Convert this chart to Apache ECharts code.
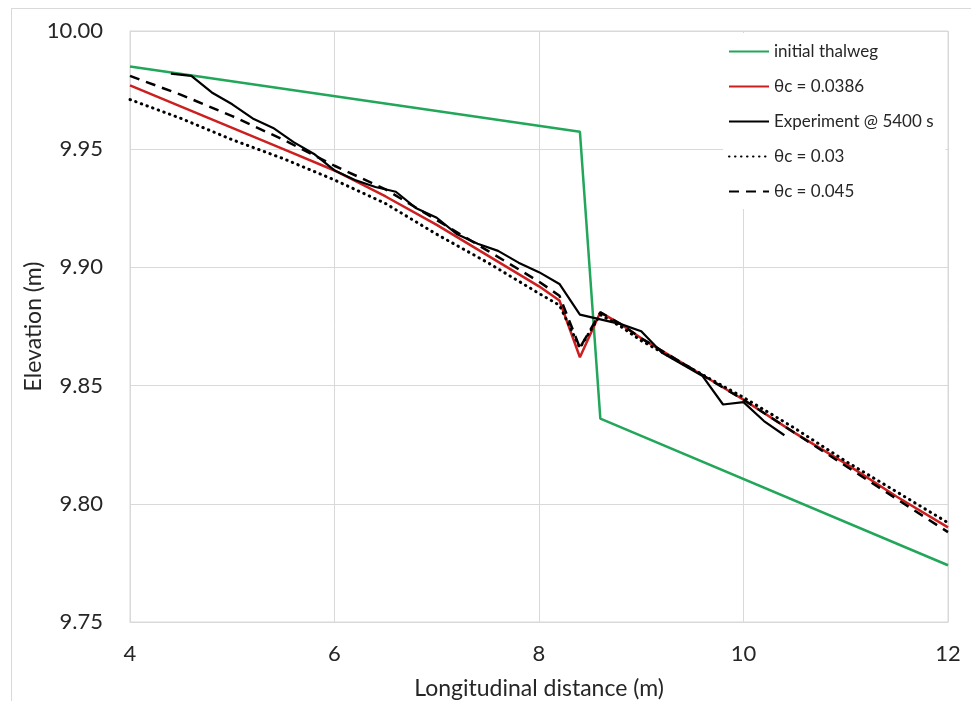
<!DOCTYPE html>
<html>
<head>
<meta charset="utf-8">
<script src="https://cdn.jsdelivr.net/npm/echarts@6/dist/echarts.min.js"></script>
<style>
  html, body { margin: 0; padding: 0; background: #fff; }
  #chart {
    position: absolute;
    left: 11px;
    top: 8px;
    width: 959px;
    height: 692px;
    border-left: 1px solid #d9d9d9;
    border-top: 1px solid #d9d9d9;
  }
</style>
</head>
<body>
<div id="chart"></div>
<script>
// initial thalweg
const thalwegX = [4, 8.4, 8.6, 12]
const thalwegY = [9.985, 9.9574, 9.836, 9.774]

// experiment @ 5400 s
const expX = [4.4, 4.6, 4.8, 5.0, 5.2, 5.4, 5.6, 5.8, 6.0, 6.2, 6.4, 6.6, 6.8, 7.0, 7.2, 7.4,
  7.6, 7.8, 8.0, 8.2, 8.4, 8.6, 8.8, 9.0, 9.2, 9.4, 9.6, 9.8, 10.0, 10.2, 10.4]
const expY = [9.982, 9.981, 9.974, 9.969, 9.963, 9.959, 9.953, 9.948, 9.941, 9.937, 9.934, 9.932,
  9.925, 9.921, 9.914, 9.910, 9.907, 9.902, 9.898, 9.893, 9.880, 9.878, 9.876, 9.873, 9.864,
  9.859, 9.854, 9.842, 9.843, 9.835, 9.829]

// simulations share one x grid
const simX = [4, 4.5, 5, 5.5, 6, 6.5, 7, 7.5, 8, 8.2, 8.4, 8.6, 8.8, 9, 9.5, 10, 10.5, 11, 11.5, 12]
const sim0386 = [9.977, 9.968, 9.959, 9.950, 9.941, 9.930, 9.918, 9.905, 9.892, 9.886, 9.862,
  9.881, 9.876, 9.870, 9.857, 9.844, 9.830, 9.817, 9.803, 9.790]
const sim003 = [9.971, 9.963, 9.954, 9.946, 9.937, 9.927, 9.914, 9.902, 9.889, 9.884, 9.866,
  9.880, 9.875, 9.869, 9.857, 9.845, 9.832, 9.818, 9.805, 9.792]
const sim045 = [9.981, 9.973, 9.964, 9.954, 9.943, 9.933, 9.920, 9.907, 9.894, 9.888, 9.866,
  9.881, 9.876, 9.870, 9.857, 9.844, 9.830, 9.816, 9.802, 9.788]

const xTicks = [4, 6, 8, 10, 12]
const yTicks = [9.75, 9.80, 9.85, 9.90, 9.95, 10.00]

const pairs = (xs, ys) => xs.map((x, i) => [x, ys[i]])

const font = 'Lato, "Open Sans", sans-serif'
const gridColor = '#d9d9d9'
const textColor = '#262626'

const chart = echarts.init(document.getElementById('chart'))

// 线条系列，不显示数据点
const lineSeries = (name, data, lineStyle) => ({
  name,
  type: 'line',
  symbol: 'none',
  data,
  lineStyle,
  itemStyle: { color: lineStyle.color, opacity: 0 }
})

chart.setOption({
  animation: false,
  textStyle: { fontFamily: font },
  grid: {
    left: 118,
    top: 22,
    right: 23,
    bottom: 79,
    outerBoundsMode: 'none',
    containLabel: false,
    show: true,
    borderColor: gridColor,
    borderWidth: 1
  },
  legend: {
    orient: 'vertical',
    left: 711,
    top: 24,
    padding: [10, 12, 9, 5],
    backgroundColor: '#fff',
    itemWidth: 40,
    itemHeight: 14,
    itemGap: 18,
    itemStyle: { opacity: 0 },
    textStyle: { fontSize: 17, color: textColor, fontFamily: font },
    data: ['initial thalweg', 'θc = 0.0386', 'Experiment @ 5400 s', 'θc = 0.03', 'θc = 0.045']
  },
  xAxis: {
    type: 'value',
    min: xTicks[0],
    max: xTicks[xTicks.length - 1],
    interval: 2,
    name: 'Longitudinal distance (m)',
    nameLocation: 'middle',
    nameGap: 55,
    nameMoveOverlap: false,
    nameTextStyle: { fontSize: 23, color: textColor },
    axisLine: { lineStyle: { color: gridColor } },
    axisTick: { show: false },
    axisLabel: { fontSize: 22, color: textColor, margin: 21 },
    splitLine: { lineStyle: { color: gridColor } }
  },
  yAxis: {
    type: 'value',
    min: yTicks[0],
    max: yTicks[yTicks.length - 1],
    interval: 0.05,
    name: 'Elevation (m)',
    nameLocation: 'middle',
    nameGap: 85,
    nameMoveOverlap: false,
    nameTextStyle: { fontSize: 23, color: textColor },
    axisLine: { show: true, lineStyle: { color: gridColor } },
    axisTick: { show: false },
    axisLabel: {
      fontSize: 22,
      color: textColor,
      margin: 27,
      formatter: v => v.toFixed(2)
    },
    splitLine: { lineStyle: { color: gridColor } }
  },
  series: [
    lineSeries('initial thalweg', pairs(thalwegX, thalwegY), { color: '#22a65a', width: 2.5 }),
    lineSeries('θc = 0.0386', pairs(simX, sim0386), { color: '#cc1f1f', width: 2.5 }),
    lineSeries('Experiment @ 5400 s', pairs(expX, expY), { color: '#000', width: 2.2 }),
    lineSeries('θc = 0.03', pairs(simX, sim003), { color: '#000', width: 3, type: [0.5, 5.5], cap: 'round' }),
    lineSeries('θc = 0.045', pairs(simX, sim045), { color: '#000', width: 2.5, type: [10, 7] })
  ]
})

window.addEventListener('resize', () => chart.resize())
</script>
</body>
</html>
